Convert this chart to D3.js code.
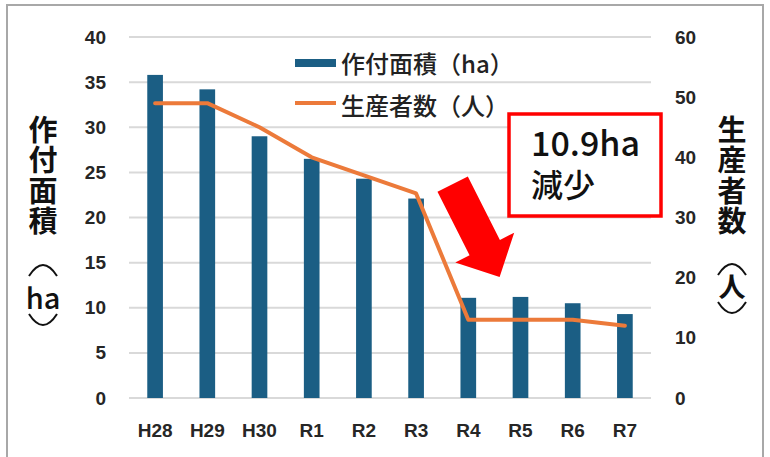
<!DOCTYPE html>
<html>
<head>
<meta charset="utf-8">
<script src="https://cdn.jsdelivr.net/npm/d3@7"></script>
<style>
  body { margin: 0; background: #fff; }
  svg { display: block; }
</style>
</head>
<body>
<div class="canvas"></div>
<script>
// data
const years = ['H28', 'H29', 'H30', 'R1', 'R2', 'R3', 'R4', 'R5', 'R6', 'R7'];
const area = [35.8, 34.2, 29.0, 26.5, 24.3, 22.1, 11.1, 11.2, 10.5, 9.3];   // 作付面積 (ha)
const growers = [49, 49, 45, 40, 37, 34, 13, 13, 13, 12];                   // 生産者数 (人)
const leftTicks = [0, 5, 10, 15, 20, 25, 30, 35, 40];
const rightTicks = [0, 10, 20, 30, 40, 50, 60];

const dims = {width: 770, height: 457};
const plot = {left: 129, right: 651, top: 37, bottom: 398};

const svg = d3.select('.canvas')
  .append('svg')
  .attr('width', dims.width)
  .attr('height', dims.height);

// outer frame
svg.append('path')
  .attr('d', `M7,${dims.height + 5} V5 H763 V${dims.height + 5}`)
  .attr('fill', 'none')
  .attr('stroke', '#a8a8a8')
  .attr('stroke-width', 2);

const x = d3.scaleBand()
  .domain(years)
  .range([plot.left, plot.right])
  .paddingInner(0.7)
  .paddingOuter(0.35);

const yL = d3.scaleLinear().domain([0, 40]).range([plot.bottom, plot.top]);
const yR = d3.scaleLinear().domain([0, 60]).range([plot.bottom, plot.top]);
const cx = d => x(d) + x.bandwidth() / 2;

// grid
svg.append('g')
  .selectAll('line')
  .data(leftTicks)
  .join('line')
    .attr('x1', plot.left).attr('x2', plot.right)
    .attr('y1', d => yL(d)).attr('y2', d => yL(d))
    .attr('stroke', '#d9d9d9')
    .attr('stroke-width', 2);

const tickFont = g => g
  .attr('font-family', '"Liberation Sans", Arial, sans-serif')
  .attr('font-size', 19)
  .attr('font-weight', 'bold')
  .attr('fill', '#262626');

// left axis
const axL = svg.append('g')
  .attr('transform', `translate(${plot.left},0)`)
  .call(d3.axisLeft(yL).tickValues(leftTicks).tickSize(0).tickPadding(23));
axL.select('.domain').remove();
axL.selectAll('text').call(tickFont);

// right axis
const axR = svg.append('g')
  .attr('transform', `translate(${plot.right},0)`)
  .call(d3.axisRight(yR).tickValues(rightTicks).tickSize(0).tickPadding(24));
axR.select('.domain').remove();
axR.selectAll('text').call(tickFont);

// bottom axis
const axB = svg.append('g')
  .attr('transform', `translate(0,${plot.bottom})`)
  .call(d3.axisBottom(x).tickSize(0).tickPadding(26));
axB.select('.domain').remove();
axB.selectAll('text').call(tickFont);

// bars
svg.append('g')
  .selectAll('rect')
  .data(area)
  .join('rect')
    .attr('x', (d, i) => x(years[i]))
    .attr('y', d => yL(d))
    .attr('width', x.bandwidth())
    .attr('height', d => yL(0) - yL(d))
    .attr('fill', '#1b5e84');

// line
const line = d3.line()
  .x((d, i) => cx(years[i]))
  .y(d => yR(d));

svg.append('path')
  .datum(growers)
  .attr('d', line)
  .attr('fill', 'none')
  .attr('stroke', '#ec7a3a')
  .attr('stroke-width', 4)
  .attr('stroke-linejoin', 'round')
  .attr('stroke-linecap', 'round');

// legend
const cjk = '"Noto Sans CJK JP", "Noto Sans", sans-serif';
const legend = svg.append('g').attr('transform', 'translate(295,0)');
legend.append('rect')
  .attr('x', 0).attr('y', 59).attr('width', 41).attr('height', 8)
  .attr('fill', '#1b5e84');
legend.append('line')
  .attr('x1', 0).attr('x2', 41).attr('y1', 103).attr('y2', 103)
  .attr('stroke', '#ec7a3a').attr('stroke-width', 4);
legend.selectAll('text')
  .data(['作付面積（ha）', '生産者数（人）'])
  .join('text')
    .attr('x', 46)
    .attr('y', (d, i) => i ? 104 : 62)
    .attr('dominant-baseline', 'central')
    .attr('font-family', cjk)
    .attr('font-size', 24)
    .attr('font-weight', 500)
    .attr('fill', '#222')
    .text(d => d);

// vertical axis titles: one vertical text, arcs as vertical brackets
const vTitle = (xc, word, inner, arcTop, innerBase, arcBot) => {
  const g = svg.append('g')
    .attr('font-family', cjk)
    .attr('font-weight', 'bold')
    .attr('fill', '#111');
  g.append('text')
    .attr('x', xc)
    .attr('y', 115)
    .attr('font-size', 29)
    .attr('letter-spacing', 1.5)
    .style('writing-mode', 'vertical-rl')
    .text(word);
  g.append('path')
    .attr('d', `M${xc - 14},${arcTop + 12} Q${xc},${arcTop - 10} ${xc + 14},${arcTop + 12}`)
    .attr('fill', 'none').attr('stroke', '#111').attr('stroke-width', 2);
  g.append('text')
    .attr('x', xc).attr('y', innerBase)
    .attr('text-anchor', 'middle')
    .attr('font-size', inner === 'ha' ? 29 : 27)
    .attr('font-weight', inner === 'ha' ? 500 : 'bold')
    .text(inner);
  g.append('path')
    .attr('d', `M${xc - 14},${arcBot} Q${xc},${arcBot + 22} ${xc + 14},${arcBot}`)
    .attr('fill', 'none').attr('stroke', '#111').attr('stroke-width', 2);
};
vTitle(43, '作付面積', 'ha', 264, 309, 314);
vTitle(732, '生産者数', '人', 263, 297, 302);

// annotation box
svg.append('rect')
  .attr('x', 509).attr('y', 114).attr('width', 152).attr('height', 102)
  .attr('fill', '#fff')
  .attr('stroke', '#ff0000')
  .attr('stroke-width', 3.5);
const note = svg.append('text')
  .attr('font-family', cjk).attr('font-weight', 500)
  .attr('fill', '#111');
note.append('tspan')
  .attr('x', 531).attr('y', 156)
  .attr('font-size', 34)
  .text('10.9ha');
note.append('tspan')
  .attr('x', 531).attr('y', 197)
  .attr('font-size', 32)
  .text('減少');

// red arrow, placed in data space (category index, left-axis value)
const xi = d3.scaleLinear().domain([0, years.length - 1]).range([cx(years[0]), cx(years[years.length - 1])]);
const tail = [xi(5.7), yL(23.7)];
const tip = [xi(6.6), yL(13.4)];
const dx = tip[0] - tail[0], dy = tip[1] - tail[1];
const len = Math.hypot(dx, dy);
const ux = dx / len, uy = dy / len, nx = -uy, ny = ux;
const shaftW = 17, headW = 33, headL = 33;
const bx = tip[0] - ux * headL, by = tip[1] - uy * headL;
const pts = [
  [tail[0] + nx * shaftW, tail[1] + ny * shaftW],
  [bx + nx * shaftW, by + ny * shaftW],
  [bx + nx * headW, by + ny * headW],
  tip,
  [bx - nx * headW, by - ny * headW],
  [bx - nx * shaftW, by - ny * shaftW],
  [tail[0] - nx * shaftW, tail[1] - ny * shaftW]
];
svg.append('polygon')
  .attr('points', pts.map(p => p.join(',')).join(' '))
  .attr('fill', '#ff0000');
</script>
</body>
</html>
